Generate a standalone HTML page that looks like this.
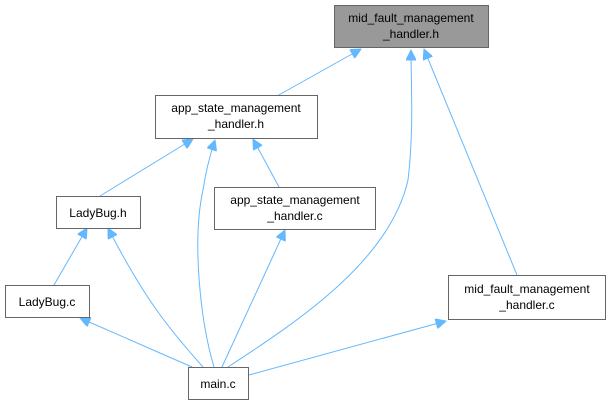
<!DOCTYPE html>
<html><head><style>
html,body{margin:0;padding:0;background:#fff;}
svg{display:block;}
text{font-family:"Liberation Sans",Arial,sans-serif;font-size:12px;fill:#000;text-anchor:middle;}
.b{fill:#fff;stroke:#666;stroke-width:1;}
.e{fill:none;stroke:#63b8ff;stroke-width:1;}
</style></head><body>
<svg width="611" height="400" viewBox="0 0 611 400">
<defs>
<marker id="a" viewBox="0 0 10 10" refX="10" refY="5" markerWidth="11" markerHeight="10" markerUnits="userSpaceOnUse" orient="auto">
<path d="M0,0 L10,5 L0,10 z" fill="#63b8ff" stroke="#63b8ff"/>
</marker>
</defs>
<path class="e" marker-end="url(#a)" d="M277,96 L361,49"/>
<path class="e" marker-end="url(#a)" d="M228,367 C300,320 390,260 408,180 C414,130 411,85 411,50"/>
<path class="e" marker-end="url(#a)" d="M517,275 L424,49"/>
<path class="e" marker-end="url(#a)" d="M100,196 L193,139"/>
<path class="e" marker-end="url(#a)" d="M214,367 C200,320 192,240 203,190 C206,170 210,155 215,140"/>
<path class="e" marker-end="url(#a)" d="M279,187 L253,139"/>
<path class="e" marker-end="url(#a)" d="M54,285 L87,228"/>
<path class="e" marker-end="url(#a)" d="M203,367 C170,330 145,300 108,228"/>
<path class="e" marker-end="url(#a)" d="M222,367 L285,230"/>
<path class="e" marker-end="url(#a)" d="M192,367 L80,318"/>
<path class="e" marker-end="url(#a)" d="M249,375 L446,321"/>

<rect x="334.5" y="5.5" width="154" height="42" fill="#999" stroke="#666"/>
<text x="411" y="22">mid_fault_management</text>
<text x="411" y="38">_handler.h</text>

<rect class="b" x="155.5" y="95.5" width="162" height="43"/>
<text x="236" y="112">app_state_management</text>
<text x="236" y="128">_handler.h</text>

<rect class="b" x="56.5" y="196.5" width="84" height="32"/>
<text x="98" y="217">LadyBug.h</text>

<rect class="b" x="214.5" y="187.5" width="161" height="42"/>
<text x="295" y="204">app_state_management</text>
<text x="295" y="220">_handler.c</text>

<rect class="b" x="5.5" y="285.5" width="84" height="32"/>
<text x="47" y="306">LadyBug.c</text>

<rect class="b" x="448.5" y="275.5" width="157" height="44"/>
<text x="527" y="293">mid_fault_management</text>
<text x="527" y="309">_handler.c</text>

<rect class="b" x="188.5" y="367.5" width="60" height="32"/>
<text x="218" y="388">main.c</text>
</svg>
</body></html>
